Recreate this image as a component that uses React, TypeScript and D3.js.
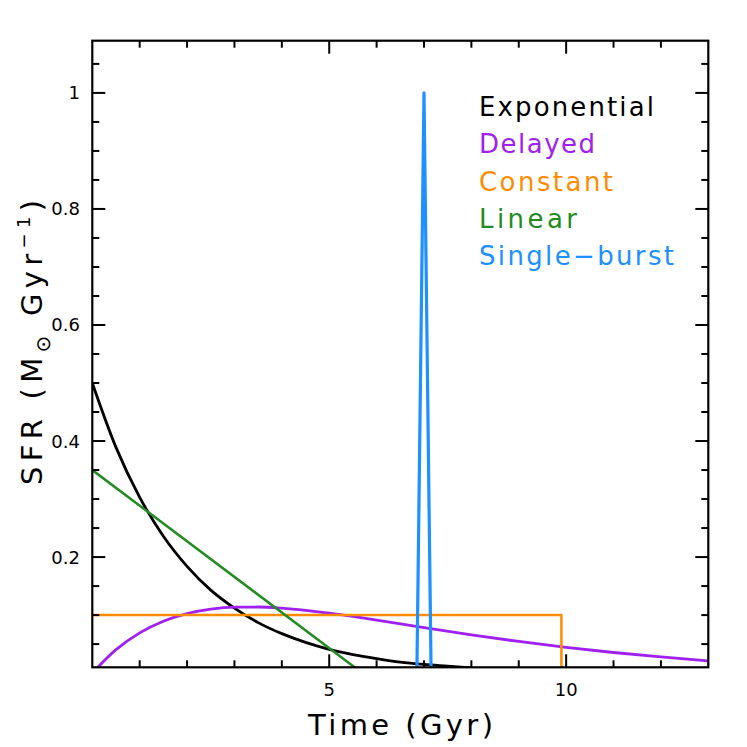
import React from "react";
import * as d3 from "d3";

// Data
const expT = [0, 0.5, 1, 1.5, 2, 2.5, 3, 3.5, 4, 4.5, 5, 5.5, 6, 6.5, 7, 7.5, 8];
const expSFR = [0.5, 0.389, 0.303, 0.236, 0.184, 0.143, 0.112, 0.087, 0.068, 0.053, 0.041, 0.032, 0.025, 0.019, 0.015, 0.012, 0.009];

const delT = [0, 0.5, 1, 1.5, 2, 2.5, 3, 3.5, 4, 4.5, 5, 5.5, 6, 7, 8, 9, 10, 11, 12, 13];
const delSFR = [0, 0.0404, 0.0694, 0.0895, 0.1026, 0.1102, 0.1136, 0.1139, 0.1119, 0.1082, 0.1033, 0.0977, 0.0915, 0.0785, 0.066, 0.0545, 0.0445, 0.0355, 0.0278, 0.021];

const constT = [0, 9.9, 9.9];
const constSFR = [0.1, 0.1, 0];

const linT = [0, 5.7];
const linSFR = [0.35, 0];

const burstT = [6.85, 7.0, 7.15];
const burstSFR = [0, 1, 0];

const legendLabels = ["Exponential", "Delayed", "Constant", "Linear", "Single\u2212burst"];
const legendWidths = [175, 116, 134, 98, 195];
const seriesColors = ["#000000", "#a020f0", "#ff8c00", "#228b22", "#1e90ff"];

const xMajor = [5, 10];
const xMinor = [1, 2, 3, 4, 6, 7, 8, 9, 11, 12];
const yMajor = [0.2, 0.4, 0.6, 0.8, 1];
const yMajorLabels = ["0.2", "0.4", "0.6", "0.8", "1"];
const yMinor = [0.05, 0.1, 0.15, 0.25, 0.3, 0.35, 0.45, 0.5, 0.55, 0.65, 0.7, 0.75, 0.85, 0.9, 0.95, 1.05];

const W = 747;
const H = 747;
const L = 92.3, R = 708.3, T = 40.7, B = 667.3;
const FONT = "'DejaVu Sans', 'Open Sans', sans-serif";

export default function App() {
  const x = d3.scaleLinear().domain([0, 13]).range([L, R]);
  const y = d3.scaleLinear().domain([0.01, 1.09]).range([B, T]);

  const mk = (ts: number[], vs: number[], curve: any) =>
    d3.line<number>().x((_, i) => x(ts[i])).y((v) => y(v)).curve(curve)(vs) || "";

  const series = [
    { d: mk(expT, expSFR, d3.curveMonotoneX), c: seriesColors[0], w: 2.8 },
    { d: mk(delT, delSFR, d3.curveMonotoneX), c: seriesColors[1], w: 2.8 },
    { d: mk(constT, constSFR, d3.curveLinear), c: seriesColors[2], w: 2.5 },
    { d: mk(linT, linSFR, d3.curveLinear), c: seriesColors[3], w: 2.5 },
    { d: mk(burstT, burstSFR, d3.curveLinear), c: seriesColors[4], w: 3.2 },
  ];

  const MAJ = 13, MIN = 7;

  return (
    <svg width={W} height={H} style={{ position: "absolute", left: 0, top: 0, background: "#fff" }}>
      <defs>
        <clipPath id="plotclip">
          <rect x={L} y={T} width={R - L} height={B - T} />
        </clipPath>
      </defs>
      <g clipPath="url(#plotclip)">
        {series.map((s, i) => (
          <path key={i} d={s.d} fill="none" stroke={s.c} strokeWidth={s.w} strokeLinejoin="round" />
        ))}
      </g>
      {/* ticks */}
      <g stroke="#000" strokeWidth={2}>
        {xMajor.map((v) => (
          <g key={"xM" + v}>
            <line x1={x(v)} x2={x(v)} y1={B} y2={B - MAJ} />
            <line x1={x(v)} x2={x(v)} y1={T} y2={T + MAJ} />
          </g>
        ))}
        {xMinor.map((v) => (
          <g key={"xm" + v}>
            <line x1={x(v)} x2={x(v)} y1={B} y2={B - MIN} />
            <line x1={x(v)} x2={x(v)} y1={T} y2={T + MIN} />
          </g>
        ))}
        {yMajor.map((v) => (
          <g key={"yM" + v}>
            <line x1={L} x2={L + MAJ} y1={y(v)} y2={y(v)} />
            <line x1={R} x2={R - MAJ} y1={y(v)} y2={y(v)} />
          </g>
        ))}
        {yMinor.map((v) => (
          <g key={"ym" + v}>
            <line x1={L} x2={L + MIN} y1={y(v)} y2={y(v)} />
            <line x1={R} x2={R - MIN} y1={y(v)} y2={y(v)} />
          </g>
        ))}
      </g>
      <rect x={L} y={T} width={R - L} height={B - T} fill="none" stroke="#000" strokeWidth={2.2} />
      {/* tick labels */}
      <g fontFamily={FONT} fontSize={18} fill="#000">
        {xMajor.map((v) => (
          <text key={"xl" + v} x={x(v)} y={696} textAnchor="middle">{String(v)}</text>
        ))}
        {yMajor.map((v, i) => (
          <text key={"yl" + v} x={80} y={y(v) + 6.5} textAnchor="end">{yMajorLabels[i]}</text>
        ))}
      </g>
      {/* axis titles */}
      <text x={308} y={735} textLength={185} lengthAdjust="spacing" fontFamily={FONT} fontSize={29} fill="#000">Time (Gyr)</text>
      <text transform={`translate(42,485) rotate(-90)`} textLength={285} lengthAdjust="spacing" fontFamily={FONT} fontSize={29} fill="#000">
        SFR (M<tspan fontSize={20} dy={8}>{"\u2299"}</tspan><tspan dy={-8}> Gyr</tspan><tspan fontSize={18} dy={-12}>{"\u22121"}</tspan><tspan dy={12}>)</tspan>
      </text>
      {/* legend */}
      <g fontFamily={FONT} fontSize={26}>
        {legendLabels.map((lab, i) => (
          <text key={lab} x={479} y={116 + i * 37.3} fill={seriesColors[i]} textLength={legendWidths[i]} lengthAdjust="spacing">{lab}</text>
        ))}
      </g>
    </svg>
  );
}
